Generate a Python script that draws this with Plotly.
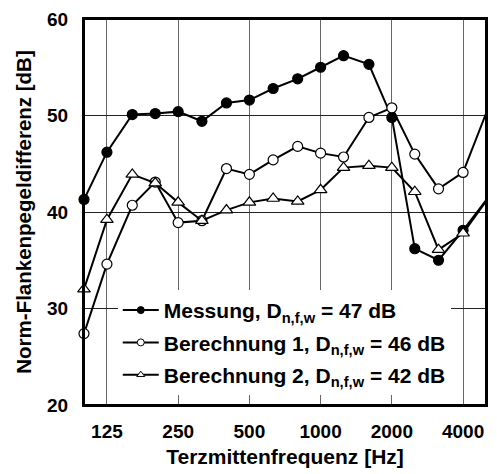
import plotly.graph_objects as go

freqs = [100, 125, 160, 200, 250, 315, 400, 500, 630, 800, 1000, 1250, 1600, 2000, 2500, 3150, 4000, 5000]
messung = [41.3, 46.2, 50.1, 50.2, 50.4, 49.4, 51.3, 51.6, 52.8, 53.8, 55.0, 56.2, 55.3, 49.8, 36.2, 35.0, 38.1, 41.2]
berechnung1 = [27.4, 34.6, 40.7, 43.1, 38.9, 39.1, 44.5, 43.9, 45.4, 46.8, 46.1, 45.7, 49.8, 50.8, 46.0, 42.4, 44.1, 50.2]
berechnung2 = [32.0, 39.2, 43.9, 43.0, 41.0, 39.1, 40.2, 41.0, 41.4, 41.1, 42.3, 44.6, 44.8, 44.6, 42.1, 36.1, 37.8, 41.1]
names = ["Messung, D<sub>n,f,w</sub> = 47 dB",
         "Berechnung 1, D<sub>n,f,w</sub> = 46 dB",
         "Berechnung 2, D<sub>n,f,w</sub> = 42 dB"]
xticks = [125, 250, 500, 1000, 2000, 4000]
yticks = [20, 30, 40, 50, 60]

fig = go.Figure()
styles = [
    (messung, "circle", "black", 10),
    (berechnung1, "circle", "white", 10),
    (berechnung2, "triangle-up", "white", 11),
]
for i, ((vals, sym, fill, sz), nm) in enumerate(zip(styles, names)):
    fig.add_trace(go.Scatter(
        x=freqs, y=vals, mode="lines+markers", name=nm, showlegend=False,
        line=dict(color="black", width=2),
        marker=dict(symbol=sym, size=sz, color=fill, line=dict(color="black", width=1.2)),
        cliponaxis=False,
    ))
    fig.add_trace(go.Scatter(
        x=[None], y=[None], mode="lines+markers", name=nm, legendgroup=f"g{i}",
        line=dict(color="black", width=2),
        marker=dict(symbol=sym, size=7, color=fill, line=dict(color="black", width=1)),
    ))

fnt = "Liberation Sans, Arial, sans-serif"
fig.update_layout(
    width=497, height=474,
    margin=dict(l=84, r=9, t=16, b=64),
    plot_bgcolor="white", paper_bgcolor="white",
    font=dict(family=fnt, size=19, color="black"),
    showlegend=True,
    legend=dict(
        x=0.084, y=0.026, xanchor="left", yanchor="bottom",
        bgcolor="white", borderwidth=0,
        font=dict(family=fnt, size=21, color="black", weight="bold"),
        itemwidth=36, tracegroupgap=2,
    ),
    xaxis=dict(
        type="log", range=[2, 3.69897],
        tickvals=xticks, ticktext=[f"<b>{t}</b>" for t in xticks],
        showgrid=True, gridcolor="#666", gridwidth=1,
        showline=True, linecolor="black", linewidth=2, mirror=True,
        ticks="", zeroline=False, ticklabeloverflow="allow", ticklabelstandoff=8,
        title=dict(text="<b>Terzmittenfrequenz [Hz]</b>", font=dict(size=21), standoff=9),
        tickfont=dict(size=19),
    ),
    yaxis=dict(
        range=[20, 60], tickvals=yticks, ticktext=[f"<b>{t}</b>" for t in yticks],
        showgrid=True, gridcolor="#222", gridwidth=1,
        showline=True, linecolor="black", linewidth=2, mirror=True,
        ticks="", zeroline=False, ticklabelstandoff=10, ticklabeloverflow="allow",
        title=dict(text="<b>Norm-Flankenpegeldifferenz [dB]</b>", font=dict(size=20.5), standoff=10),
        tickfont=dict(size=19),
    ),
    shapes=[dict(type="rect", xref="paper", yref="paper", x0=0, y0=0, x1=1, y1=1,
                 line=dict(color="black", width=2), layer="above")],
)
fig.write_html(
    "out.html",
    config={"displayModeBar": False},
    post_script="document.body.style.margin='0';document.body.style.overflow='hidden';",
)
